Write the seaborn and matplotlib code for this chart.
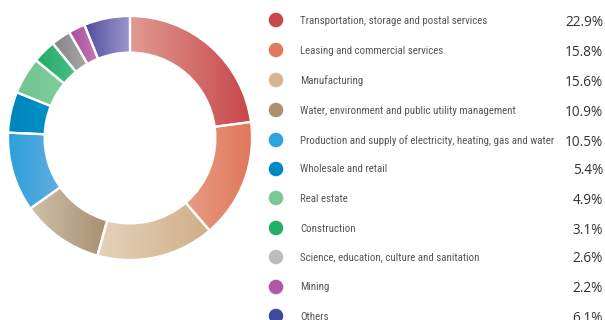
import numpy as np
import pandas as pd
import matplotlib
matplotlib.use("Agg")
import matplotlib.pyplot as plt
import seaborn as sns
from matplotlib import font_manager
from matplotlib.colors import to_rgb

categories = [
    "Transportation, storage and postal services",
    "Leasing and commercial services",
    "Manufacturing",
    "Water, environment and public utility management",
    "Production and supply of electricity, heating, gas and water",
    "Wholesale and retail",
    "Real estate",
    "Construction",
    "Science, education, culture and sanitation",
    "Mining",
    "Others",
]
shares = [22.9, 15.8, 15.6, 10.9, 10.5, 5.4, 4.9, 3.1, 2.6, 2.2, 6.1]
pct_labels = ["22.9%", "15.8%", "15.6%", "10.9%", "10.5%", "5.4%", "4.9%",
              "3.1%", "2.6%", "2.2%", "6.1%"]
dot_colors = ["#C8474B", "#E07A5F", "#D5B690", "#A89070", "#2CA5E0", "#0088C0",
              "#78C896", "#22AE6A", "#BCBCC0", "#B058A8", "#4048A0"]
grad_left = ["#E09A92", "#E89C84", "#E6D2BA", "#CFC0AC", "#2CA0DC", "#0084BC",
             "#70C690", "#20AA66", "#858585", "#AA4C9C", "#4E4E9E"]
grad_right = ["#C8474B", "#E0765A", "#CFAF88", "#A89070", "#62AEE0", "#0092C6",
              "#80CC9C", "#4EBE84", "#A8A8AC", "#C478B4", "#9C96CA"]

sns.set_theme(style="white")
names = {f.name for f in font_manager.fontManager.ttflist}
label_font = "DejaVu Sans"
for cand in ["Arial Narrow", "Liberation Sans Narrow", "Roboto Condensed",
             "PT Sans Narrow", "Archivo Narrow", "Open Sans Condensed",
             "Barlow Condensed", "Noto Sans Display", "DejaVu Sans Condensed"]:
    if cand in names:
        label_font = cand
        break
pct_font = "Open Sans" if "Open Sans" in names else "DejaVu Sans"
plt.rcParams["font.family"] = ["DejaVu Sans"]

W, H = 605, 320
fig = plt.figure(figsize=(W / 100, H / 100), dpi=100)
fig.patch.set_facecolor("white")

# donut axes
cx, cy, R = 130, 138, 122
ax = fig.add_axes([(cx - R) / W, (H - cy - R) / H, 2 * R / W, 2 * R / H])
wedges, _ = ax.pie(shares, startangle=90, counterclock=False, radius=1.0,
                   colors=dot_colors,
                   wedgeprops=dict(width=0.30, edgecolor="white", linewidth=1.6))
for i, w in enumerate(wedges):
    t1, t2 = np.deg2rad(w.theta1), np.deg2rad(w.theta2)
    th = np.linspace(t1, t2, 100)
    xs = np.concatenate([np.cos(th), 0.7 * np.cos(th)])
    ys = np.concatenate([np.sin(th), 0.7 * np.sin(th)])
    x0, x1, y0, y1 = xs.min(), xs.max(), ys.min(), ys.max()
    c0, c1 = np.array(to_rgb(grad_left[i])), np.array(to_rgb(grad_right[i]))
    t = np.linspace(0, 1, 64)
    img = (c0[None, :] * (1 - t[:, None]) + c1[None, :] * t[:, None])[None, :, :]
    im = ax.imshow(img, extent=(x0, x1, y0, y1), aspect="auto", zorder=1,
                   interpolation="bilinear")
    im.set_clip_path(w)
    w.set_facecolor("none")
    w.set_zorder(2)
ax.set_xlim(-1, 1)
ax.set_ylim(-1, 1)
ax.set_aspect("equal")
ax.axis("off")

# legend axes in pixel coordinates
lax = fig.add_axes([0, 0, 1, 1], facecolor="none")
row_y = [20, 50, 80, 110, 140, 169, 198, 228, 257, 287, 316]
df = pd.DataFrame({"x": [276] * len(categories), "y": row_y, "cat": categories})
sns.scatterplot(data=df, x="x", y="y", hue="cat", palette=dot_colors, s=110,
                edgecolor="none", legend=False, ax=lax)
lax.set_xlim(0, W)
lax.set_ylim(H, 0)
lax.axis("off")
label_texts = []
for yv, lab, pct in zip(row_y, categories, pct_labels):
    label_texts.append(lax.text(300, yv + 0.5, lab, fontsize=9, family=label_font,
                                color="#555555", va="center", ha="left"))
    lax.text(603, yv + 2, pct, fontsize=9.8, family=pct_font, color="#333333",
             va="center", ha="right")

# fit the label font size so the longest label spans about the reference width
fig.canvas.draw()
r = fig.canvas.get_renderer()
wlong = label_texts[4].get_window_extent(r).width
size = 9 * 254.0 / wlong
for t in label_texts:
    t.set_fontsize(size)

fig.savefig("out.png", dpi=100, facecolor="white")
